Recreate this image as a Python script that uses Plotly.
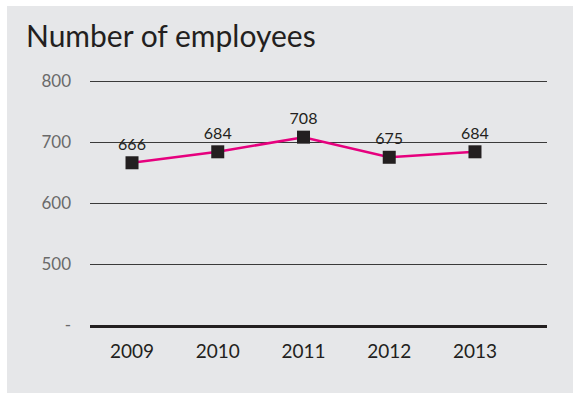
import plotly.graph_objects as go

# Headcount by year
years = ["2009", "2010", "2011", "2012", "2013"]
employees = [666, 684, 708, 675, 684]

# Y-axis ticks (400 is shown as a dash)
y_tick_values = [400, 500, 600, 700, 800]
y_tick_labels = ["-", "500", "600", "700", "800"]

INK = "#231f20"
PANEL = "#e6e7e9"
MAGENTA = "#e6007e"

W, H = 573, 393
ML, MR, MT, MB = 90, 26, 78, 68
pw, ph = W - ML - MR, H - MT - MB

fig = go.Figure()
fig.add_trace(go.Scatter(
    x=years, y=employees,
    mode="lines+markers+text",
    line=dict(color=MAGENTA, width=2.5),
    marker=dict(symbol="square", size=13, color=INK),
    text=[str(v) for v in employees],
    textposition="top center",
    textfont=dict(family="Lato", size=16, color=INK),
    cliponaxis=False,
    hoverinfo="skip",
))

# Grey panel behind the whole chart, leaving a thin white edge top and left
fig.add_shape(
    type="rect", xref="paper", yref="paper", layer="below",
    x0=(7 - ML) / pw, x1=(W - ML) / pw + 0.01,
    y0=-(MB + 1) / ph, y1=(H - MB - 6) / ph,
    fillcolor=PANEL, line=dict(width=0),
)

fig.update_layout(
    width=W, height=H,
    margin=dict(l=ML, r=MR, t=MT, b=MB),
    paper_bgcolor="white",
    plot_bgcolor=PANEL,
    showlegend=False,
    title=dict(
        text="Number of employees",
        x=26 / W, xanchor="left",
        y=1 - 36 / H, yanchor="middle",
        font=dict(family="Lato", size=30, color=INK),
    ),
    xaxis=dict(
        type="category",
        range=[-0.49, 4.84],
        showgrid=False,
        showline=True, linecolor=INK, linewidth=3,
        ticks="", tickfont=dict(family="Lato", size=19, color=INK),
        ticklabelstandoff=7,
        zeroline=False,
    ),
    yaxis=dict(
        range=[400, 805],
        tickvals=y_tick_values, ticktext=y_tick_labels,
        showgrid=True, gridcolor="#3a3a3a", gridwidth=1,
        zeroline=False, showline=False,
        ticks="", tickfont=dict(family="Lato", size=17, color="#6a6a6a"),
        ticklabelstandoff=18,
    ),
)

fig.write_html("out.html")
